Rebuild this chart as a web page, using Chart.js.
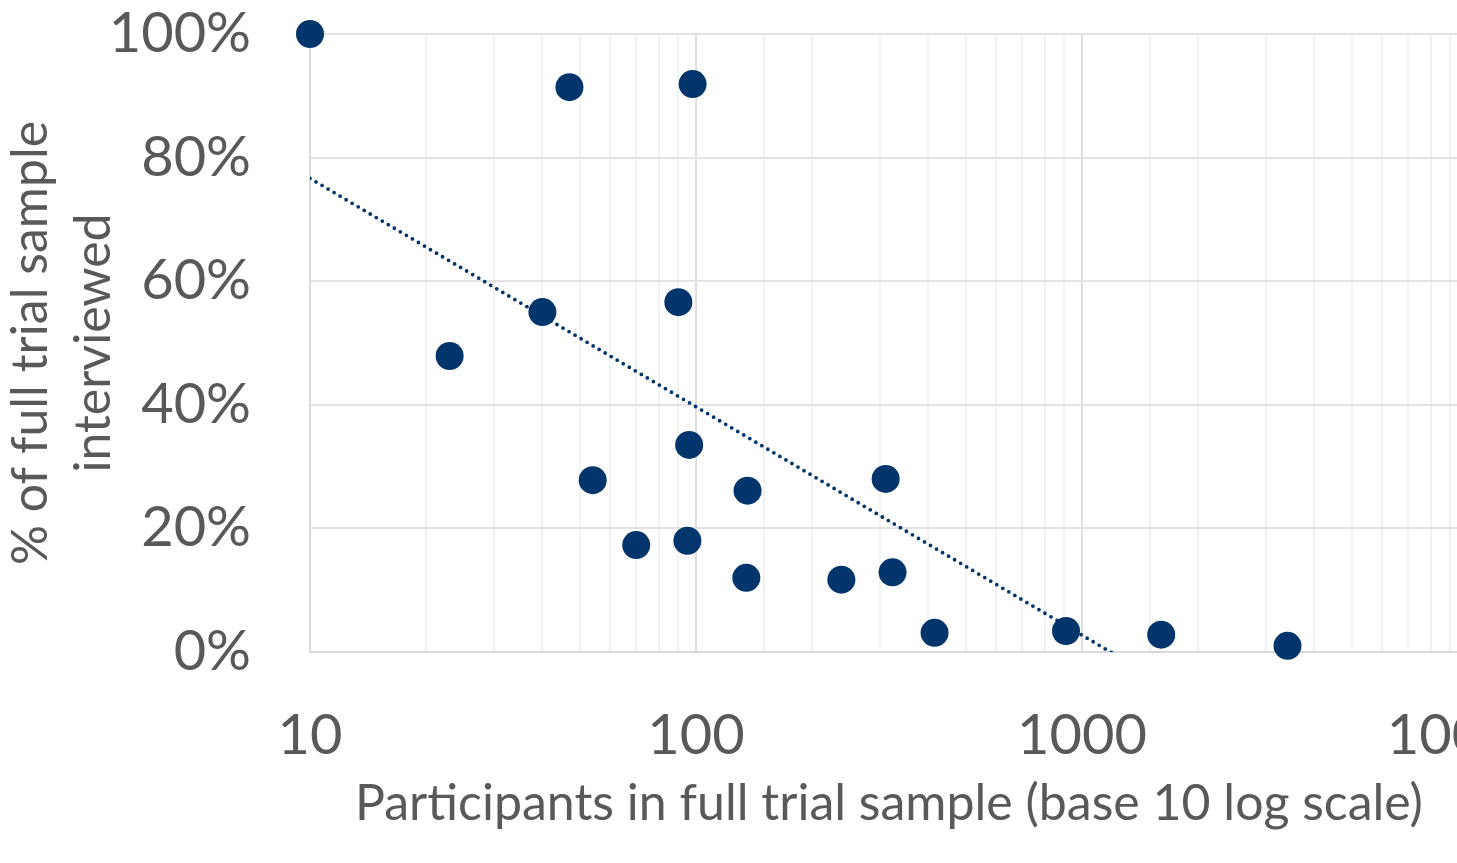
<!DOCTYPE html>
<html>
<head>
<meta charset="utf-8">
<title>Interviewed share vs trial size</title>
<script src="https://cdn.jsdelivr.net/npm/chart.js@4/dist/chart.umd.min.js"></script>
<style>
    html, body { margin: 0; padding: 0; background: #fff; overflow: hidden; }
    #wrap { width: 1570px; height: 863px; }
</style>
</head>
<body>
<div id="wrap"><canvas id="trialChart" width="1570" height="863"></canvas></div>
<script>
// participants in full trial sample (x) and share interviewed (y)
const participants = [10, 47, 98, 40, 90, 23, 96, 54, 136, 310, 70, 95, 135, 238, 323, 415, 909, 1604, 3407];
const interviewed = [1.00, 0.914, 0.919, 0.550, 0.566, 0.479, 0.335, 0.278, 0.261, 0.280, 0.173, 0.180, 0.120, 0.117, 0.129, 0.031, 0.034, 0.028, 0.010];
const yTicks = [0, 0.2, 0.4, 0.6, 0.8, 1.0];
const xLabels = [10, 100, 1000, 10000];

const navy = '#01356b';
const textGrey = '#595959';
const fontFamily = 'Lato, "Open Sans", sans-serif';

// log trendline, same kind as the spreadsheet one: y = a + b * ln(x)
function logFit(xs, ys) {
    const lx = xs.map(v => Math.log(v));
    const mx = lx.reduce((s, v) => s + v, 0) / lx.length;
    const my = ys.reduce((s, v) => s + v, 0) / ys.length;
    let num = 0, den = 0;
    lx.forEach((v, i) => { num += (v - mx) * (ys[i] - my); den += (v - mx) * (v - mx); });
    const b = num / den;
    return { a: my - b * mx, b };
}

const fit = logFit(participants, interviewed);
const trendEnds = [Math.min(...participants), Math.max(...participants)];

new Chart(document.getElementById('trialChart'), {
    type: 'scatter',
    data: {
        datasets: [
            {
                label: 'Trials',
                data: participants.map((x, i) => ({ x, y: interviewed[i] })),
                backgroundColor: navy,
                borderColor: navy,
                pointRadius: 14,
                pointHoverRadius: 14,
                borderWidth: 0,
                clip: false,
                order: 1
            },
            {
                type: 'line',
                label: 'Trend',
                data: trendEnds.map(x => ({ x, y: fit.a + fit.b * Math.log(x) })),
                borderColor: navy,
                borderWidth: 3.8,
                borderDash: [0, 7],
                borderCapStyle: 'round',
                pointRadius: 0,
                fill: false,
                order: 2
            }
        ]
    },
    options: {
        responsive: false,
        animation: false,
        devicePixelRatio: 1,
        layout: { padding: { top: 34, right: 102, bottom: 0, left: 0 } },
        plugins: {
            legend: { display: false },
            tooltip: { enabled: false }
        },
        scales: {
            x: {
                type: 'logarithmic',
                min: 10,
                max: 10000,
                afterFit: scale => { scale.height = 211; },
                border: { display: true, color: '#d9d9d9', width: 2 },
                grid: {
                    lineWidth: 2,
                    tickLength: 50,
                    tickColor: 'rgba(0,0,0,0)',
                    color: ctx => xLabels.includes(ctx.tick && ctx.tick.value) ? '#dedede' : '#f2f2f2'
                },
                ticks: {
                    autoSkip: false,
                    maxRotation: 0,
                    padding: 0,
                    color: textGrey,
                    font: { family: fontFamily, size: 56 },
                    callback: v => xLabels.includes(v) ? String(v) : ''
                },
                title: {
                    display: true,
                    text: 'Participants in full trial sample (base 10 log scale)',
                    color: textGrey,
                    font: { family: fontFamily, size: 50 },
                    padding: { top: 0, bottom: 29 }
                }
            },
            y: {
                min: 0,
                max: 1,
                afterFit: scale => { scale.width = 310; },
                afterBuildTicks: scale => { scale.ticks = yTicks.map(value => ({ value })); },
                border: { display: true, color: '#d9d9d9', width: 2 },
                grid: { lineWidth: 2, tickLength: 59, tickColor: 'rgba(0,0,0,0)', color: '#e3e3e3' },
                ticks: {
                    padding: 0,
                    color: textGrey,
                    font: { family: fontFamily, size: 56 },
                    callback: v => Math.round(v * 100) + '%'
                },
                title: {
                    display: true,
                    text: ['% of full trial sample', 'interviewed'],
                    color: textGrey,
                    font: { family: fontFamily, size: 50, lineHeight: 1.25 },
                    padding: { top: 0, bottom: 0 }
                }
            }
        }
    }
});
</script>
</body>
</html>
